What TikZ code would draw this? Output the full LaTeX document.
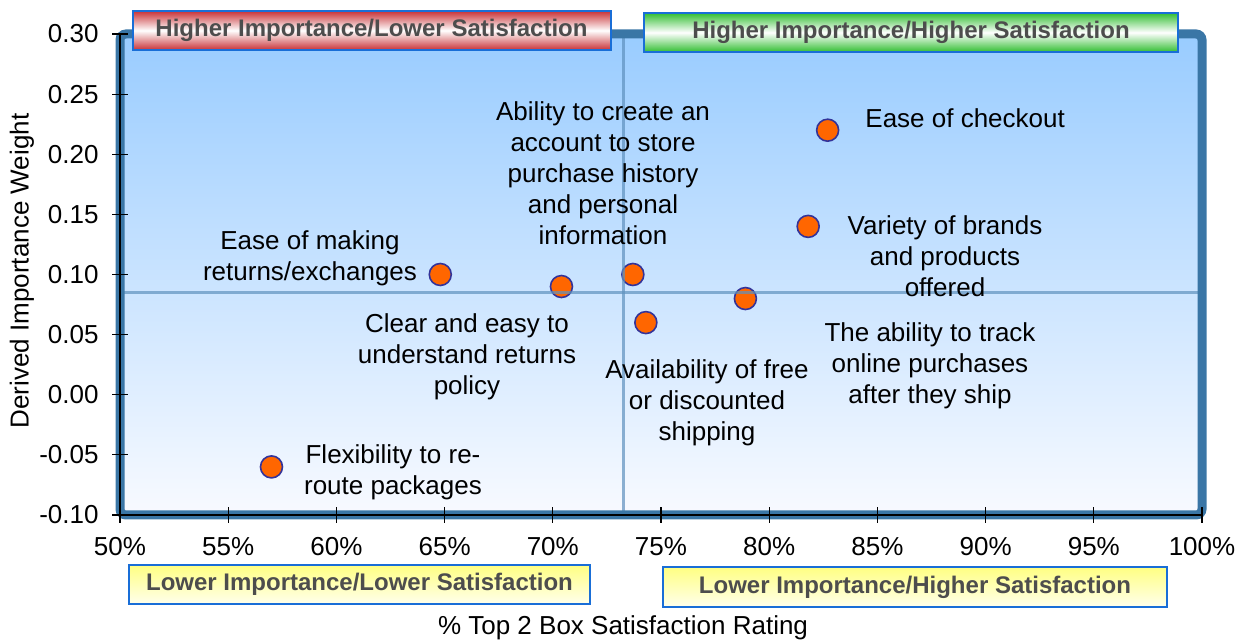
\documentclass[tikz,border=0pt]{standalone}
\usepackage{fontspec}
\setmainfont{Liberation Sans}
\definecolor{frameblue}{RGB}{58,118,166}
\definecolor{plottop}{RGB}{153,204,255}
\definecolor{plotbot}{RGB}{248,250,255}
\definecolor{quadline}{RGB}{95,145,190}
\definecolor{dotfill}{RGB}{255,102,0}
\definecolor{dotedge}{RGB}{51,51,153}
\definecolor{boxedge}{RGB}{25,110,215}
\definecolor{boxtext}{RGB}{77,77,77}
\definecolor{boxred}{RGB}{200,50,55}
\definecolor{boxgreen}{RGB}{50,190,50}
\definecolor{boxyellow}{RGB}{255,255,130}
\begin{document}
\begin{tikzpicture}[x=0.5pt,y=0.5pt,
	dot/.style={circle,draw=dotedge,fill=dotfill,line width=0.8pt,minimum size=11pt,inner sep=0pt},
	lbl/.style={align=center,inner sep=0pt,font=\fontsize{13}{15.5}\selectfont},
	quad/.style={draw=boxedge,line width=1pt,inner sep=0pt,text=boxtext,font=\fontsize{12}{14}\bfseries\selectfont},
	ticklbl/.style={inner sep=0pt,font=\fontsize{13}{15}\selectfont}]
	\useasboundingbox (0,0) rectangle (1245,641);
	\shade[top color=plottop,bottom color=plotbot] (120,126) rectangle (1202,607);
	\begin{scope}[x=10.82pt,y=601.25pt,shift={(-481pt,123.125pt)}]
	\node[dot] (checkout) at (82.7,0.22) {};
	\node[dot] (variety) at (81.8,0.14) {};
	\node[dot] (account) at (73.7,0.10) {};
	\node[dot] (returns) at (64.8,0.10) {};
	\node[dot] (policy) at (70.4,0.09) {};
	\node[dot] (shipping) at (74.3,0.06) {};
	\node[dot] (track) at (78.9,0.08) {};
	\node[dot] (reroute) at (57.0,-0.06) {};
	\coordinate (hl) at (50,0.085);
	\coordinate (hr) at (100,0.085);
	\coordinate (vb) at (73.25,-0.10);
	\coordinate (vt) at (73.25,0.30);
	\draw[quadline,line width=1.5pt,opacity=.7] (hl)--(hr);
	\draw[quadline,line width=1.5pt,opacity=.7] (vb)--(vt);
	\end{scope}
	\draw[frameblue,line width=4.5pt,rounded corners=3pt] (120,126) rectangle (1202,607);
	\draw[line width=0.6pt] (120,607)--(120,126)--(1202,126);
	\foreach \i/\t in {0/-0.10,1/-0.05,2/0.00,3/0.05,4/0.10,5/0.15,6/0.20,7/0.25,8/0.30} {
		\draw[line width=0.6pt] (112,{126+\i*60.125})--(128,{126+\i*60.125});
		\node[ticklbl,anchor=east] (yt\i) at (99,{126+\i*60.125}) {\t};
	}
	\foreach \i/\t in {0/50,1/55,2/60,3/65,4/70,5/75,6/80,7/85,8/90,9/95,10/100} {
		\draw[line width=0.6pt] ({120+\i*108.2},118)--({120+\i*108.2},134);
		\node[ticklbl] (xt\i) at ({120+\i*108.2},94) {\t\%};
	}
	\node[ticklbl,rotate=90] (ytitle) at (22,370) {Derived Importance Weight};
	\node[ticklbl] (xtitle) at (623,13) {\% Top 2 Box Satisfaction Rating};
	% labels of the points
	\node[lbl] (acctlbl) at (603,467.5) {Ability to create an\\account to store\\purchase history\\and personal\\information};
	\node[lbl,anchor=west] (chklbl) at (865,523) {Ease of checkout};
	\node[lbl] (varlbl) at (945,385) {Variety of brands\\and products\\offered};
	\node[lbl] (retlbl) at (310,383) {Ease of making\\returns/exchanges};
	\node[lbl] (pollbl) at (467,284) {Clear and easy to\\understand returns\\policy};
	\node[lbl] (shiplbl) at (707,238) {Availability of free\\or discounted\\shipping};
	\node[lbl] (trklbl) at (930,275) {The ability to track\\online purchases\\after they ship};
	\node[lbl] (rtelbl) at (393,168.5) {Flexibility to re-\\route packages};
	% quadrant boxes
	\node[quad,minimum width=239pt,minimum height=19.5pt,top color=boxred,bottom color=boxred,middle color=white] (hilo) at (371.5,610.5) {Higher Importance/Lower Satisfaction};
	\node[quad,minimum width=267pt,minimum height=19.5pt,top color=boxgreen,bottom color=boxgreen,middle color=white] (hihi) at (911,608.5) {Higher Importance/Higher Satisfaction};
	\node[quad,minimum width=230.5pt,minimum height=19.5pt,top color=boxyellow,bottom color=boxyellow!15] (lolo) at (359.5,56.5) {Lower Importance/Lower Satisfaction};
	\node[quad,minimum width=252pt,minimum height=20pt,top color=boxyellow,bottom color=boxyellow!15] (lohi) at (915,54) {Lower Importance/Higher Satisfaction};
\end{tikzpicture}
\end{document}
